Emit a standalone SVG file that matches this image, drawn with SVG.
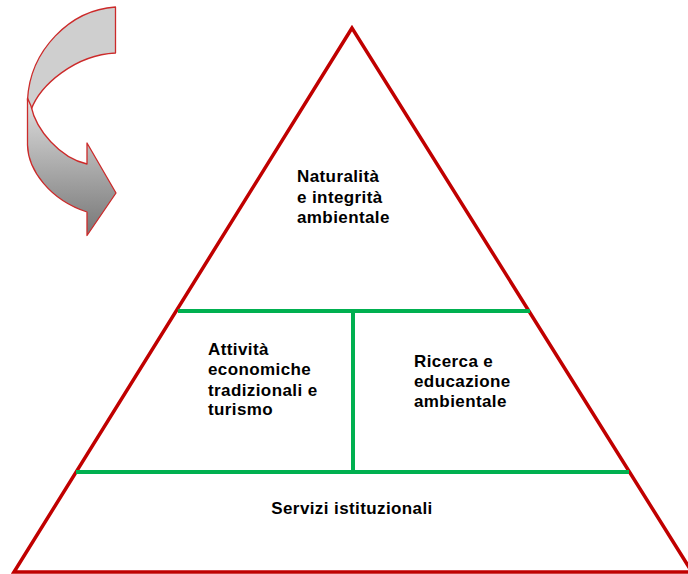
<svg xmlns="http://www.w3.org/2000/svg" width="688" height="574" viewBox="0 0 688 574">
<style>
.lbl{font-family:"Liberation Sans",Arial,sans-serif;font-size:17px;font-weight:bold;fill:#000;letter-spacing:0.4px}
.tri{fill:none;stroke:#c00000;stroke-width:3.5;stroke-linejoin:miter}
.div{stroke:#00b050;stroke-width:4;fill:none}
.arr{stroke:#cc2a2a;stroke-width:1.3;stroke-linejoin:round}
</style>
<defs>
<linearGradient id="g" gradientUnits="userSpaceOnUse" x1="0" y1="100" x2="0" y2="236">
<stop offset="0" stop-color="#dedede"/>
<stop offset="1" stop-color="#767676"/>
</linearGradient>
</defs>
<rect width="688" height="574" fill="#fff"/>
<g id="curved-arrow">
<path class="arr" fill="#cfcfcf" d="M115.5,7 C70,10 30,50 27.5,100 L31,110 C40,85 75,55 115.5,53 Z"/>
<path class="arr" fill="url(#g)" d="M27.5,98 L27.5,145 C28,170 50,200 87,212 L87,235.5 L116,193 L87,143 L87,164 C60,158 36,130 31,106 Z"/>
</g>
<g id="pyramid">
<polygon class="tri" points="352,28 14,572 692,572"/>
</g>
<g id="connectors">
<line class="div" x1="178" y1="311" x2="530" y2="311"/>
<line class="div" x1="76" y1="472" x2="629" y2="472"/>
<line class="div" x1="353" y1="311" x2="353" y2="472"/>
</g>
<g id="naturalita">
<text class="lbl" x="297" y="182">Naturalità</text>
<text class="lbl" x="297" y="202.5">e integrità</text>
<text class="lbl" x="297" y="223">ambientale</text>
</g>
<g id="attivita">
<text class="lbl" x="208" y="355">Attività</text>
<text class="lbl" x="208" y="375">economiche</text>
<text class="lbl" x="208" y="395.5">tradizionali e</text>
<text class="lbl" x="208" y="415">turismo</text>
</g>
<g id="ricerca">
<text class="lbl" x="414" y="366.5">Ricerca e</text>
<text class="lbl" x="414" y="387">educazione</text>
<text class="lbl" x="414" y="406.5">ambientale</text>
</g>
<g id="servizi">
<text class="lbl" x="352" y="514" text-anchor="middle">Servizi istituzionali</text>
</g>
</svg>
